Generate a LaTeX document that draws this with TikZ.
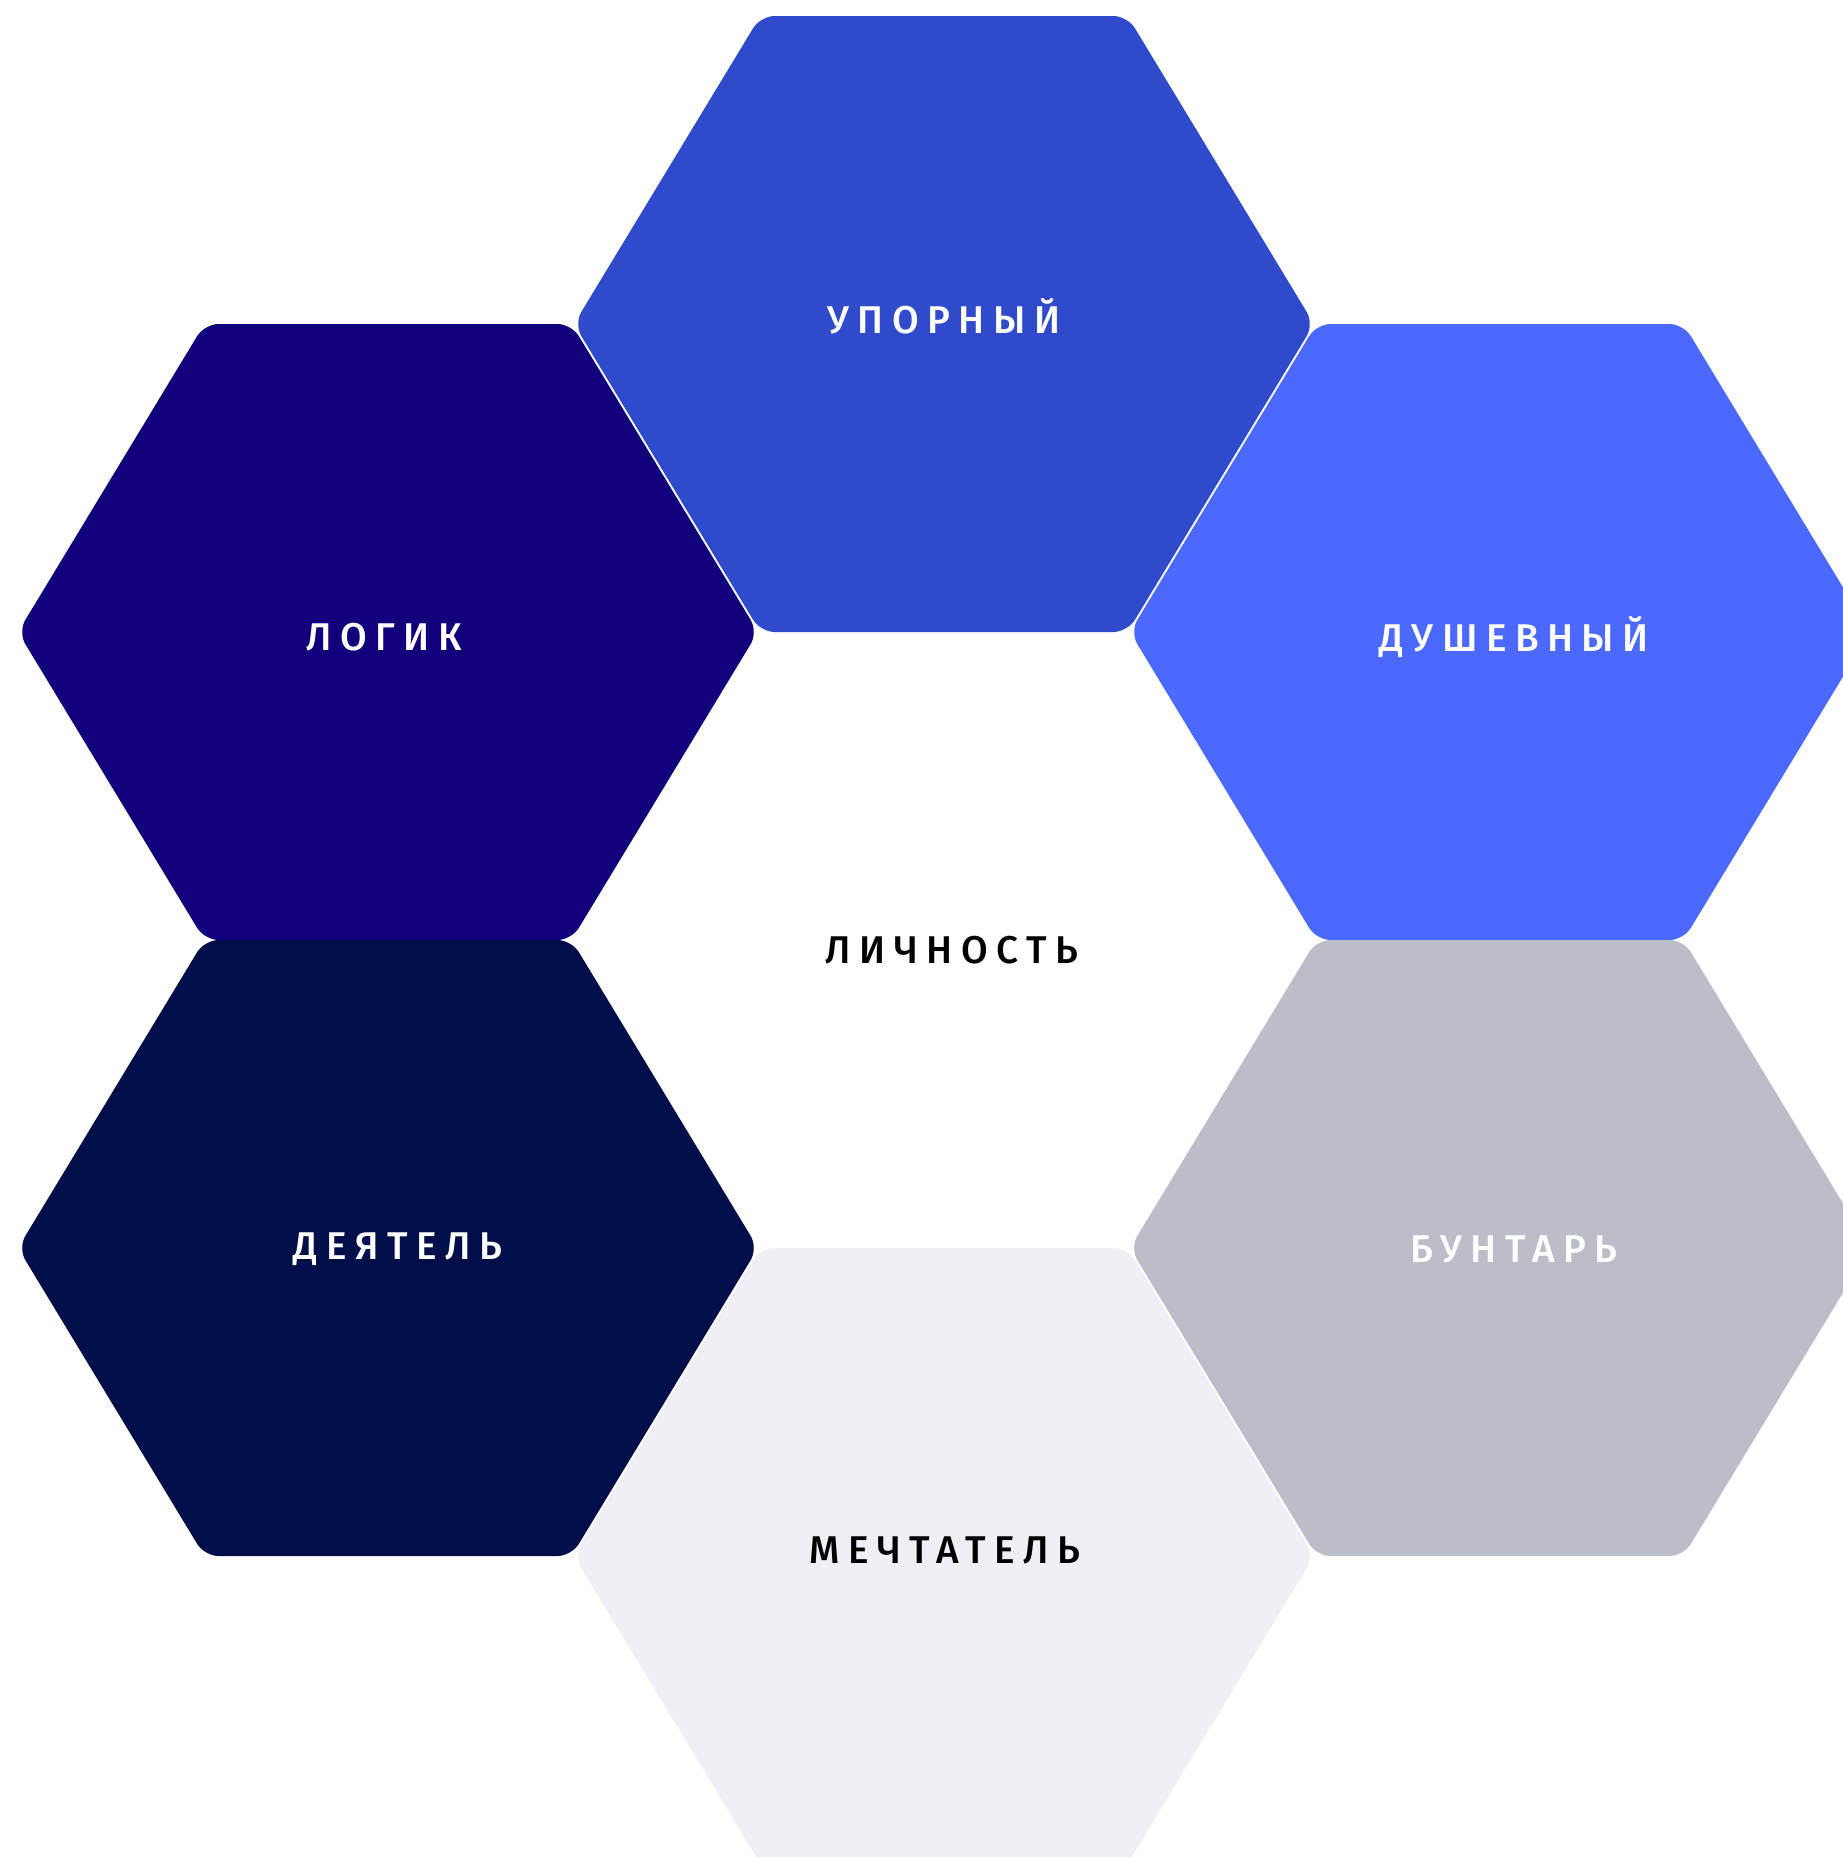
\documentclass[tikz,border=0pt]{standalone}
\usepackage{fontspec}
\usepackage{tikz}
\newfontfamily\lblfont{Fira Sans Medium}[LetterSpace=22]

\definecolor{cupor}{HTML}{2F4BCB}
\definecolor{clogik}{HTML}{10007B}
\definecolor{cdush}{HTML}{4B68FF}
\definecolor{cdeyat}{HTML}{000E4A}
\definecolor{cbunt}{HTML}{BBBDC9}
\definecolor{cmecht}{HTML}{EFEFF5}

\tikzset{
  hexcell/.pic={
    \fill[rounded corners=4pt] (-370,0) -- (-183.5,-308) -- (183.5,-308)
      -- (370,0) -- (183.5,308) -- (-183.5,308) -- cycle;
  },
  lbl/.style={font=\lblfont\fontsize{11}{13}\selectfont, text=white,
    inner sep=0pt, text height=7.6pt, text depth=0pt},
}

\begin{document}
\begin{tikzpicture}[x=0.01cm,y=-0.01cm]
      \useasboundingbox (0,0) rectangle (1843,1857);
      \fill[white] (0,0) rectangle (1843,1857);
      \clip (0,0) rectangle (1843,1857);

      %cells
      \pic[fill=cupor] at (944,324) {hexcell};
      \pic[fill=clogik] at (388,632) {hexcell};
      \pic[fill=cdush] at (1500,632) {hexcell};
      \pic[fill=cdeyat] at (388,1248) {hexcell};
      \pic[fill=cbunt] at (1500,1248) {hexcell};
      \pic[fill=cmecht] at (944,1556) {hexcell};

      %labels
      \node[lbl] (upor) at (944,320) {УПОРНЫЙ};
      \node[lbl] (logik) at (384,637) {ЛОГИК};
      \node[lbl] (dush) at (1514,638) {ДУШЕВНЫЙ};
      \node[lbl] (deyat) at (398,1246) {ДЕЯТЕЛЬ};
      \node[lbl] (bunt) at (1514,1249) {БУНТАРЬ};
      \node[lbl,text=black] (mecht) at (945,1550) {МЕЧТАТЕЛЬ};
      \node[lbl,text=black] (lichn) at (952,950) {ЛИЧНОСТЬ};
    \end{tikzpicture}
\end{document}
